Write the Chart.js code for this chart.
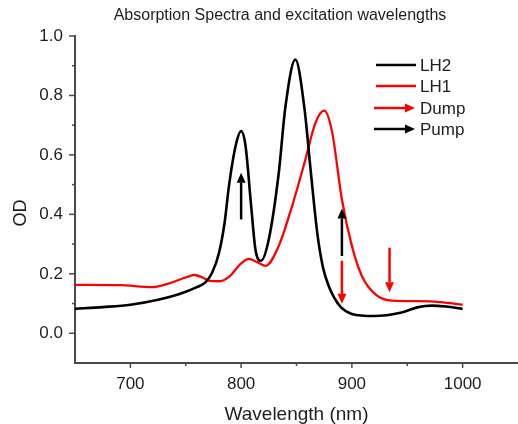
<!DOCTYPE html>
<html>
<head>
<meta charset="utf-8">
<script src="https://cdn.jsdelivr.net/npm/chart.js@4.4.1/dist/chart.umd.min.js"></script>
<style>
  html, body { margin: 0; padding: 0; background: #fff; }
  #chart { display: block; }
</style>
</head>
<body>
<canvas id="chart" width="518" height="424"></canvas>
<script>
// LH2 absorption (black)
const LH2_NM = [650, 675, 700, 725, 745, 760, 768, 774, 780, 785, 789, 795, 800, 804, 809, 813, 818, 825, 834, 840, 849, 857, 863, 869, 874, 879, 884, 890, 900, 920, 945, 960, 972, 985, 1000];
const LH2_OD = [0.082, 0.088, 0.096, 0.113, 0.133, 0.155, 0.172, 0.205, 0.27, 0.37, 0.495, 0.63, 0.68, 0.63, 0.43, 0.28, 0.244, 0.316, 0.54, 0.762, 0.921, 0.762, 0.54, 0.33, 0.22, 0.16, 0.12, 0.088, 0.065, 0.058, 0.07, 0.088, 0.093, 0.09, 0.082];

// LH1 absorption (red)
const LH1_NM = [650, 690, 720, 735, 750, 758, 765, 772, 780, 789, 800, 807, 814, 822, 834, 846, 858, 867, 875, 882, 891, 900, 909, 921, 936, 960, 980, 1000];
const LH1_OD = [0.163, 0.162, 0.155, 0.168, 0.188, 0.196, 0.188, 0.176, 0.175, 0.19, 0.235, 0.25, 0.24, 0.227, 0.294, 0.428, 0.584, 0.707, 0.749, 0.68, 0.45, 0.294, 0.193, 0.132, 0.11, 0.108, 0.105, 0.096];

// excitation arrows: wavelength, start OD, tip OD
const ARROW_NM = [800, 891, 891, 934];
const ARROW_FROM = [0.383, 0.26, 0.244, 0.288];
const ARROW_TO = [0.54, 0.42, 0.099, 0.138];
const ARROW_KIND = ['Pump', 'Pump', 'Dump', 'Dump'];

const X_MAJOR = [700, 800, 900, 1000];
const X_MINOR = [750, 850, 950];
const Y_MAJOR = [0.0, 0.2, 0.4, 0.6, 0.8, 1.0];
const Y_MINOR = [0.1, 0.3, 0.5, 0.7, 0.9];

const LEGEND_LABELS = ['LH2', 'LH1', 'Dump', 'Pump'];

const FONT = '"Liberation Sans", Arial, sans-serif';
const AXIS_COLOR = '#4a4a4a';
const TEXT_COLOR = '#1e1e1e';
const COLORS = { LH2: '#000000', LH1: '#ff0000', Dump: '#ff0000', Pump: '#000000' };

const toPoints = (xs, ys) => xs.map((x, i) => ({ x: x, y: ys[i] }));
const tickList = (major, minor) => major.concat(minor).sort((a, b) => a - b).map((v) => ({ value: v }));
const isMajor = (list, v) => list.some((m) => Math.abs(m - v) < 1e-6);

function drawArrow(ctx, x0, y0, x1, y1, color) {
  const head = 10, half = 4.5;
  const ang = Math.atan2(y1 - y0, x1 - x0);
  const bx = x1 - head * Math.cos(ang), by = y1 - head * Math.sin(ang);
  ctx.strokeStyle = color;
  ctx.fillStyle = color;
  ctx.lineWidth = 2.5;
  ctx.beginPath();
  ctx.moveTo(x0, y0);
  ctx.lineTo(bx, by);
  ctx.stroke();
  ctx.beginPath();
  ctx.moveTo(x1, y1);
  ctx.lineTo(bx + half * Math.sin(ang), by - half * Math.cos(ang));
  ctx.lineTo(bx - half * Math.sin(ang), by + half * Math.cos(ang));
  ctx.closePath();
  ctx.fill();
}

const decorations = {
  id: 'decorations',
  afterDraw(chart) {
    const ctx = chart.ctx;
    const xs = chart.scales.x, ys = chart.scales.y;
    ctx.save();

    // ticks (outside, major longer than minor)
    ctx.strokeStyle = AXIS_COLOR;
    ctx.lineWidth = 1.5;
    xs.ticks.forEach((t) => {
      const px = xs.getPixelForValue(t.value);
      const len = isMajor(X_MAJOR, t.value) ? 5 : 3;
      ctx.beginPath();
      ctx.moveTo(px, xs.top);
      ctx.lineTo(px, xs.top + len);
      ctx.stroke();
    });
    ys.ticks.forEach((t) => {
      const py = ys.getPixelForValue(t.value);
      const len = isMajor(Y_MAJOR, t.value) ? 6 : 3;
      ctx.beginPath();
      ctx.moveTo(ys.right, py);
      ctx.lineTo(ys.right - len, py);
      ctx.stroke();
    });

    // excitation arrows
    ARROW_NM.forEach((nm, i) => {
      const px = xs.getPixelForValue(nm);
      drawArrow(ctx, px, ys.getPixelForValue(ARROW_FROM[i]), px, ys.getPixelForValue(ARROW_TO[i]), COLORS[ARROW_KIND[i]]);
    });

    // legend
    ctx.font = '17px ' + FONT;
    ctx.textBaseline = 'middle';
    ctx.textAlign = 'left';
    const legendY = [65, 86, 108, 129];
    LEGEND_LABELS.forEach((label, i) => {
      const y = legendY[i];
      if (label === 'Dump' || label === 'Pump') {
        drawArrow(ctx, 374, y, 415, y, COLORS[label]);
      } else {
        ctx.strokeStyle = COLORS[label];
        ctx.lineWidth = 2.5;
        ctx.beginPath();
        ctx.moveTo(376, y);
        ctx.lineTo(416, y);
        ctx.stroke();
      }
      ctx.fillStyle = TEXT_COLOR;
      ctx.fillText(label, 420, y + 1);
    });

    // title
    ctx.font = '16px ' + FONT;
    ctx.textAlign = 'center';
    ctx.fillStyle = TEXT_COLOR;
    ctx.fillText('Absorption Spectra and excitation wavelengths', 280, 16);

    // y axis title
    ctx.save();
    ctx.translate(21, 213);
    ctx.rotate(-Math.PI / 2);
    ctx.font = '18px ' + FONT;
    ctx.fillText('OD', 0, 0);
    ctx.restore();

    ctx.restore();
  },
};

Chart.defaults.font.family = FONT;
Chart.defaults.color = TEXT_COLOR;

new Chart(document.getElementById('chart'), {
  type: 'line',
  data: {
    datasets: [
      {
        label: 'LH2',
        data: toPoints(LH2_NM, LH2_OD),
        borderColor: COLORS.LH2,
        borderWidth: 2.6,
        pointRadius: 0,
        cubicInterpolationMode: 'monotone',
      },
      {
        label: 'LH1',
        data: toPoints(LH1_NM, LH1_OD),
        borderColor: COLORS.LH1,
        borderWidth: 2.3,
        pointRadius: 0,
        cubicInterpolationMode: 'monotone',
      },
    ],
  },
  options: {
    responsive: false,
    animation: false,
    layout: { padding: { top: 36, left: 0, right: 0, bottom: 0 } },
    plugins: {
      legend: { display: false },
      title: { display: false },
      tooltip: { enabled: false },
    },
    scales: {
      x: {
        type: 'linear',
        min: 650,
        max: 1050,
        afterBuildTicks: (scale) => { scale.ticks = tickList(X_MAJOR, X_MINOR); },
        afterFit: (scale) => { scale.height = 61; },
        grid: { display: false, drawTicks: false },
        border: { display: true, color: AXIS_COLOR, width: 2 },
        ticks: {
          padding: 11,
          maxRotation: 0,
          autoSkip: false,
          font: { size: 17 },
          callback: (v) => (isMajor(X_MAJOR, v) ? String(v) : ''),
        },
        title: {
          display: true,
          text: 'Wavelength (nm)',
          font: { size: 19, lineHeight: 1 },
          padding: { top: 0, bottom: 0 },
        },
      },
      y: {
        type: 'linear',
        min: -0.1,
        max: 1.0,
        afterBuildTicks: (scale) => { scale.ticks = tickList(Y_MAJOR, Y_MINOR); },
        afterFit: (scale) => { scale.width = 75; },
        grid: { display: false, drawTicks: false },
        border: { display: true, color: AXIS_COLOR, width: 2 },
        ticks: {
          padding: 12,
          autoSkip: false,
          font: { size: 17 },
          callback: (v) => (isMajor(Y_MAJOR, v) ? v.toFixed(1) : ''),
        },
      },
    },
  },
  plugins: [decorations],
});
</script>
</body>
</html>
